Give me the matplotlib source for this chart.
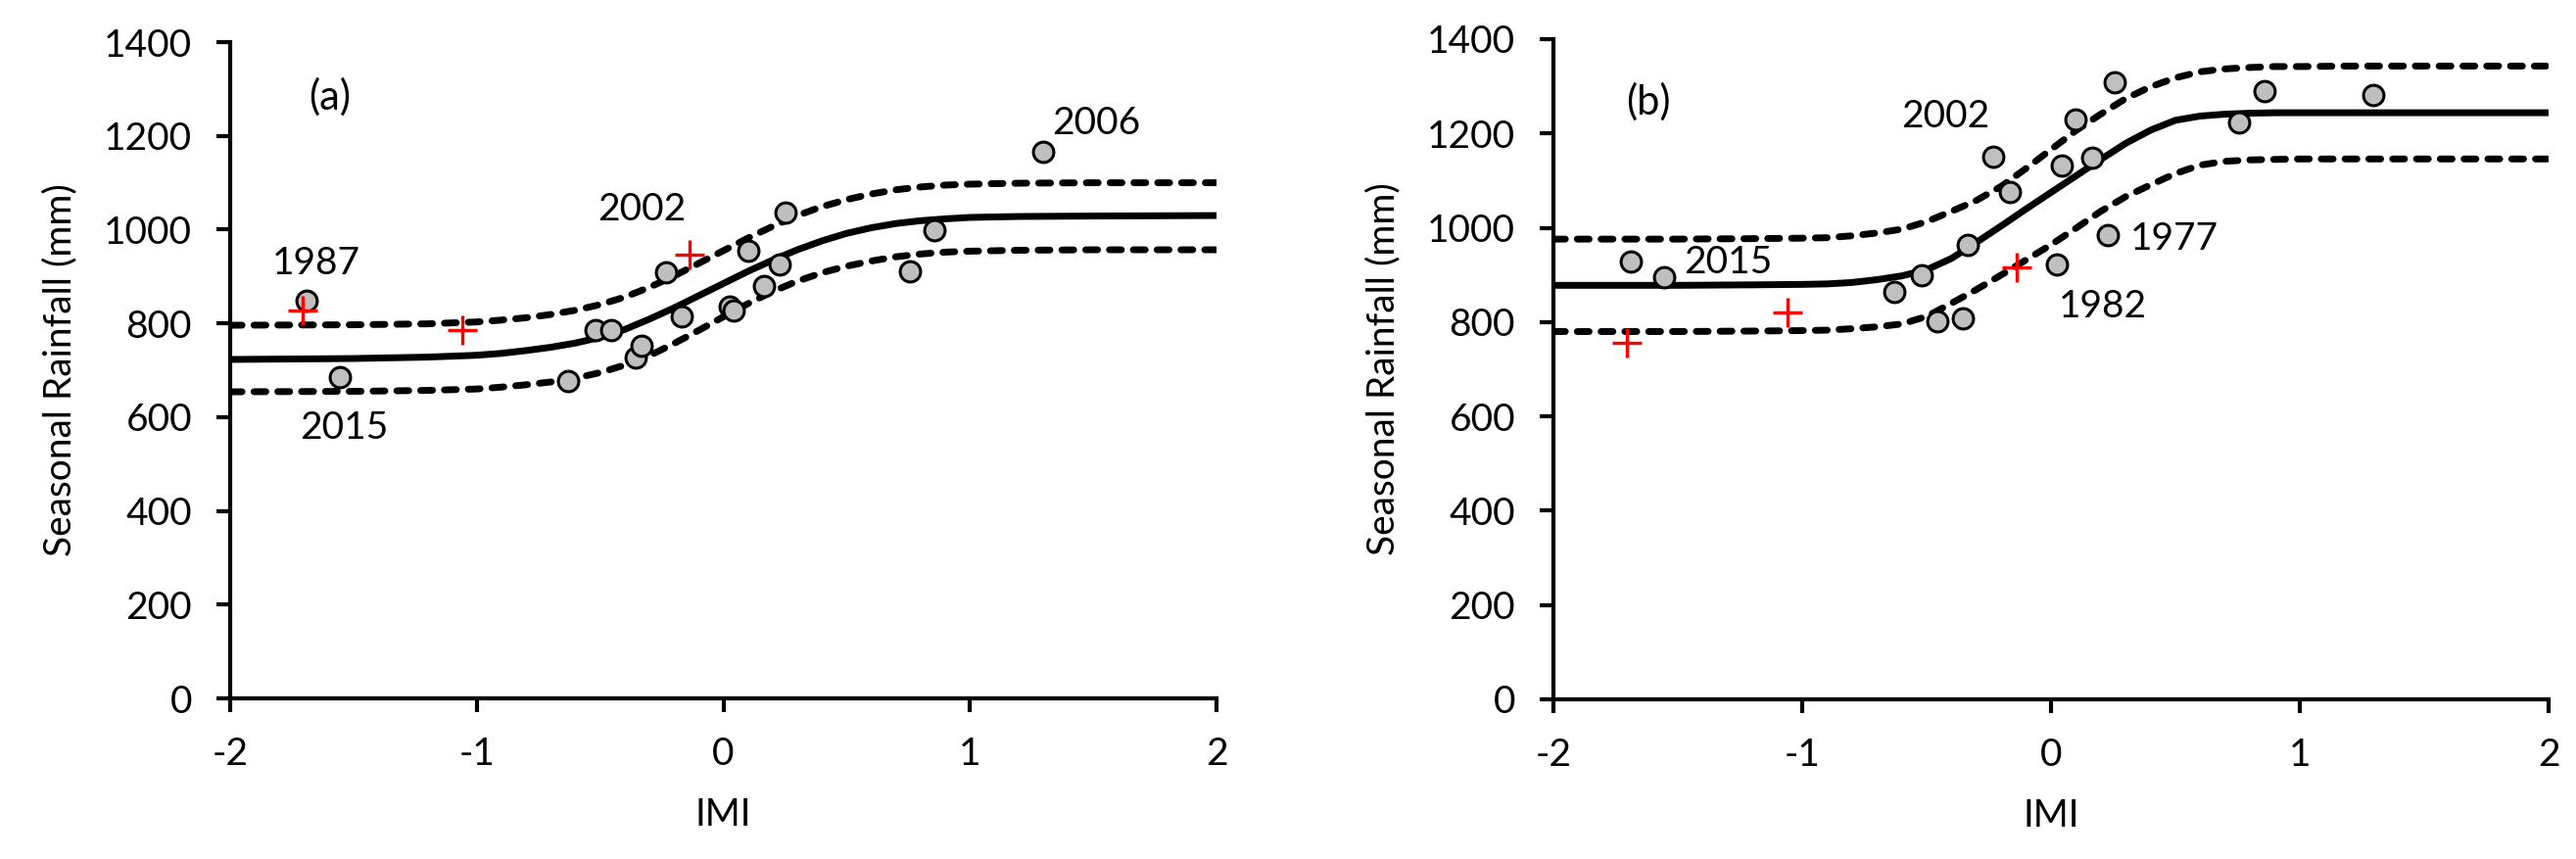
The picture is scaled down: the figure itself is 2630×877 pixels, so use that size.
import matplotlib
matplotlib.use("Agg")
import matplotlib.pyplot as plt

plt.rcParams['font.family'] = ['Lato', 'DejaVu Sans']

# ---- data ----
imi_obs = [-1.69, -1.556, -0.63, -0.519, -0.455, -0.355, -0.333, -0.232, -0.167,
           0.025, 0.043, 0.10, 0.166, 0.228, 0.254, 0.756, 0.857, 1.295]
rain_a = [849, 685, 676, 786, 785, 727, 753, 910, 814, 835, 828, 955, 880, 926,
          1036, 912, 999, 1166]
rain_b = [929, 896, 865, 899, 801, 808, 964, 1151, 1076, 922, 1133, 1230, 1149,
          985, 1309, 1223, 1289, 1282]

imi_red = [-1.705, -1.058, -0.137]
red_a = [828, 786, 947]
red_b = [756, 820, 915]

imi_curve = [-2.0, -1.5, -1.2, -1.0, -0.9, -0.8, -0.7, -0.6, -0.5, -0.4, -0.3, -0.2,
             -0.1, 0.0, 0.1, 0.2, 0.3, 0.4, 0.5, 0.6, 0.7, 0.8, 0.9, 1.0, 1.2, 1.5, 2.0]
fit_a = [723, 725, 728, 732, 736, 742, 749, 758, 770, 787, 809, 833, 859, 885, 911,
         935, 957, 976, 992, 1004, 1013, 1019, 1023, 1026, 1028, 1029, 1030]
upper_a = [796, 797, 799, 803, 807, 812, 819, 828, 840, 856, 877, 901, 928, 955, 982,
           1007, 1030, 1049, 1064, 1076, 1085, 1091, 1095, 1097, 1099, 1100, 1100]
lower_a = [654, 655, 657, 660, 664, 669, 675, 683, 695, 711, 731, 757, 785, 814, 842,
           868, 890, 908, 922, 933, 942, 948, 952, 954, 956, 957, 957]
fit_b = [878, 878, 879, 880, 881, 884, 890, 898, 911, 935, 969, 1004, 1040, 1075, 1110,
         1145, 1179, 1207, 1228, 1237, 1241, 1243, 1244, 1244, 1244, 1244, 1244]
upper_b = [976, 976, 977, 978, 979, 983, 989, 997, 1013, 1035, 1058, 1088, 1126, 1166,
           1206, 1241, 1274, 1299, 1318, 1331, 1337, 1340, 1342, 1342, 1343, 1343, 1343]
lower_b = [780, 780, 781, 782, 783, 786, 790, 796, 812, 840, 869, 900, 932, 964, 999,
           1035, 1066, 1091, 1115, 1133, 1141, 1144, 1145, 1146, 1146, 1146, 1146]

x_ticks = [-2, -1, 0, 1, 2]
y_ticks = [0, 200, 400, 600, 800, 1000, 1200, 1400]

labels_a = [("(a)", -1.595, 1256), ("1987", -1.650, 905), ("2015", -1.539, 553),
            ("2002", -0.329, 1020), ("2006", 1.511, 1204)]
labels_b = [("(b)", -1.620, 1241), ("2015", -1.299, 903), ("2002", -0.4225, 1213),
            ("1977", 0.496, 953), ("1982", 0.2075, 811)]

FS = 28
W, H = 2630, 877
fig = plt.figure(figsize=(W / 100, H / 100), dpi=100)
fig.patch.set_facecolor('white')

axes_px = [(235, 1242, 713, 43), (1586, 2602, 714, 40)]
panels = [(rain_a, red_a, fit_a, upper_a, lower_a, labels_a),
          (rain_b, red_b, fit_b, upper_b, lower_b, labels_b)]

for (l, r, b, t), (rain, red, fit, up, lo, labs) in zip(axes_px, panels):
    ax = fig.add_axes([l / W, 1 - b / H, (r - l) / W, (b - t) / H])
    ax.plot(imi_curve, fit, color='black', lw=5, solid_capstyle='butt', zorder=2)
    for band in (up, lo):
        ax.plot(imi_curve, band, color='black', lw=5, dashes=(1.75, 1.75),
                dash_capstyle='round', zorder=2)
    ax.plot(imi_obs, rain, linestyle='none', marker='o', markersize=15,
            markerfacecolor='#BFBFBF', markeredgecolor='black', markeredgewidth=2.2,
            zorder=3)
    ax.plot(imi_red, red, linestyle='none', marker='+', markersize=21,
            color='#FF0000', markeredgewidth=2.4, zorder=4)
    for txt, x, y in labs:
        fs = 30 if txt.startswith('(') else FS
        ax.text(x, y, txt, ha='center', va='baseline', fontsize=fs, zorder=5)

    ax.set_xlim(-2, 2)
    ax.set_ylim(0, 1400)
    ax.set_xticks(x_ticks)
    ax.set_yticks(y_ticks)
    ax.set_xticklabels([str(v) for v in x_ticks])
    ax.set_yticklabels([str(v) for v in y_ticks])
    ax.spines['top'].set_visible(False)
    ax.spines['right'].set_visible(False)
    for s in ('left', 'bottom'):
        ax.spines[s].set_linewidth(3)
    ax.tick_params(direction='out', length=10, width=3, labelsize=FS, pad=18)
    ax.set_xlabel('IMI', fontsize=FS, labelpad=19)
    ax.set_ylabel('Seasonal Rainfall (mm)', fontsize=FS, labelpad=19)

fig.savefig('out.png', dpi=100, facecolor='white')
